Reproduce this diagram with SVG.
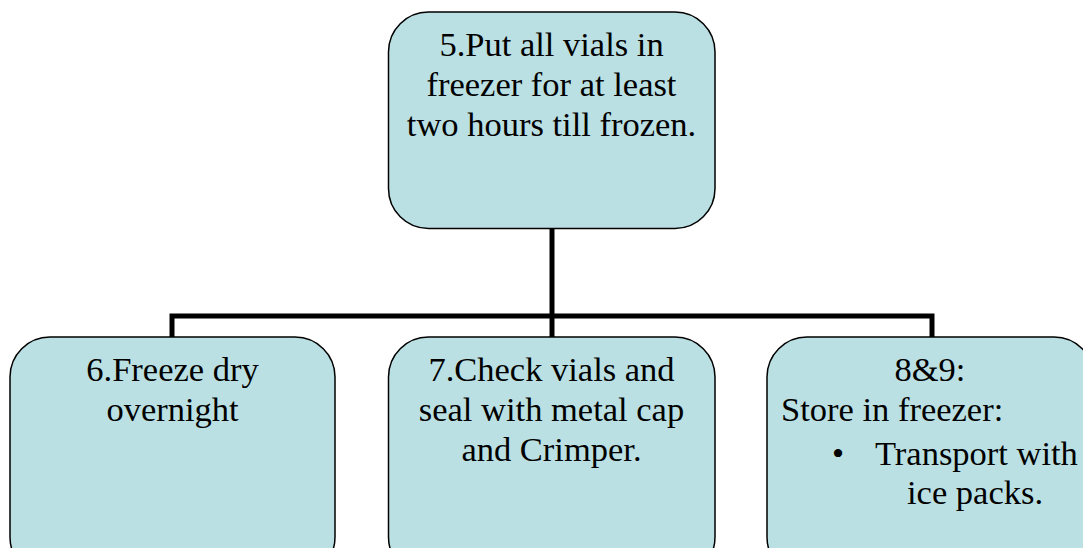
<svg xmlns="http://www.w3.org/2000/svg" width="1083" height="548" viewBox="0 0 1083 548">
<style>
.box{fill:#BBE0E3;stroke:#000;stroke-width:1.5}
.t{font-size:34.5px;fill:#000}
.c{text-anchor:middle}
.conn{fill:none;stroke:#000;stroke-width:5}
</style>
<rect width="1083" height="548" fill="#fff"/>
<g id="connectors">
<path class="conn" d="M552,229 V316"/>
<path class="conn" d="M172,337 V316 H932 V337"/>
<path class="conn" d="M552,316 V337"/>
</g>
<g id="n5" font-family="Liberation Serif, Times New Roman, serif">
<rect class="box" x="388.5" y="12" width="326.5" height="216.5" rx="40"/>
<text class="t c" x="551.5" y="56">5.Put all vials in</text>
<text class="t c" x="551.5" y="96">freezer for at least</text>
<text class="t c" x="551.5" y="136">two hours till frozen.</text>
</g>
<g id="n6" font-family="Liberation Serif, Times New Roman, serif">
<rect class="box" x="10" y="337" width="325" height="240" rx="40"/>
<text class="t c" x="172.5" y="381">6.Freeze dry</text>
<text class="t c" x="172.5" y="421">overnight</text>
</g>
<g id="n7" font-family="Liberation Serif, Times New Roman, serif">
<rect class="box" x="388.5" y="337" width="326.5" height="240" rx="40"/>
<text class="t c" x="551.5" y="381">7.Check vials and</text>
<text class="t c" x="551.5" y="421">seal with metal cap</text>
<text class="t c" x="551.5" y="461">and Crimper.</text>
</g>
<g id="n89" font-family="Liberation Serif, Times New Roman, serif">
<rect class="box" x="767" y="337" width="327" height="240" rx="40"/>
<text class="t c" x="930" y="381">8&amp;9:</text>
<text class="t" x="781" y="421">Store in freezer:</text>
<text class="t" x="832" y="465">•</text>
<text class="t" x="875" y="465">Transport with</text>
<text class="t" x="907" y="504">ice packs.</text>
</g>
</svg>
